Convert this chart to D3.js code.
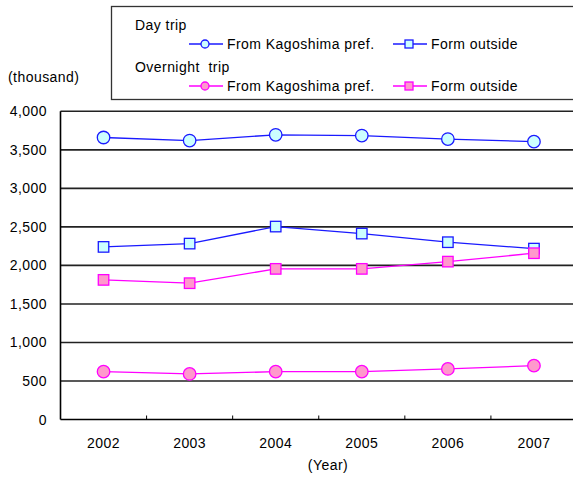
<!DOCTYPE html>
<html>
<head>
<meta charset="utf-8">
<script src="https://cdn.jsdelivr.net/npm/d3@7"></script>
<style>
  html, body { margin: 0; padding: 0; background: #fff; }
  svg { display: block; font-family: "Liberation Sans", Arial, sans-serif; }
  svg text { font-size: 14px; letter-spacing: 0.45px; fill: #000; }
</style>
</head>
<body>
<svg id="chart" width="573" height="477"></svg>
<script>
// Visitors (thousand) by year
const years = ["2002", "2003", "2004", "2005", "2006", "2007"];
const dayFromKagoshima = [3660, 3620, 3695, 3685, 3640, 3606];
const dayFromOutside = [2240, 2283, 2504, 2413, 2301, 2218];
const overnightFromKagoshima = [621, 591, 621, 621, 656, 699];
const overnightFromOutside = [1812, 1769, 1955, 1955, 2049, 2158];
const yTicks = [0, 500, 1000, 1500, 2000, 2500, 3000, 3500, 4000];

const series = [
  { name: "From Kagoshima pref.", group: "Day trip", values: dayFromKagoshima, shape: "circle", stroke: "#1a1aff", fill: "#ccffff" },
  { name: "Form outside", group: "Day trip", values: dayFromOutside, shape: "square", stroke: "#1a1aff", fill: "#ccffff" },
  { name: "From Kagoshima pref.", group: "Overnight  trip", values: overnightFromKagoshima, shape: "circle", stroke: "#ff00ff", fill: "#ff99cc" },
  { name: "Form outside", group: "Overnight  trip", values: overnightFromOutside, shape: "square", stroke: "#ff00ff", fill: "#ff99cc" }
];

const svg = d3.select("#chart");
const plotLeft = 60.5, plotRight = 577, plotTop = 111.3, plotBottom = 419.5;

const x = d3.scaleBand().domain(years).range([plotLeft, plotRight]);
const y = d3.scaleLinear().domain([0, 4000]).range([plotBottom, plotTop]);

// gridlines
svg.append("g").selectAll("line").data(yTicks.filter(t => t > 0)).join("line")
  .attr("x1", plotLeft).attr("x2", plotRight)
  .attr("y1", d => y(d)).attr("y2", d => y(d))
  .attr("stroke", "#222").attr("stroke-width", 1.6);

// y axis labels
svg.append("g").selectAll("text").data(yTicks).join("text")
  .attr("x", 47).attr("y", d => y(d) + 5)
  .attr("text-anchor", "end")
  .text(d => d3.format(",")(d));

// axes lines
svg.append("line").attr("x1", plotLeft).attr("x2", plotLeft).attr("y1", plotTop).attr("y2", plotBottom)
  .attr("stroke", "#000").attr("stroke-width", 1.6);
svg.append("line").attr("x1", plotLeft).attr("x2", plotRight).attr("y1", plotBottom).attr("y2", plotBottom)
  .attr("stroke", "#000").attr("stroke-width", 1.6);

// category boundary ticks
svg.append("g").selectAll("line").data(years.slice(1)).join("line")
  .attr("x1", d => x(d)).attr("x2", d => x(d))
  .attr("y1", plotBottom).attr("y2", plotBottom - 4)
  .attr("stroke", "#000").attr("stroke-width", 1);

// x labels
svg.append("g").selectAll("text").data(years).join("text")
  .attr("x", d => x(d) + x.bandwidth() / 2).attr("y", 448)
  .attr("text-anchor", "middle").text(d => d);

svg.append("text").attr("x", 328).attr("y", 470).attr("text-anchor", "middle").text("(Year)");
svg.append("text").attr("x", 8).attr("y", 82).text("(thousand)");

// series lines and markers
const cx = (d, i) => x(years[i]) + x.bandwidth() / 2;
const line = d3.line().x(cx).y(d => y(d));

function marker(g, shape, size) {
  if (shape === "circle") {
    g.append("circle").attr("r", size / 2);
  } else {
    g.append("rect").attr("x", -size / 2).attr("y", -size / 2).attr("width", size).attr("height", size);
  }
}

series.forEach(s => {
  svg.append("path").datum(s.values).attr("d", line)
    .attr("fill", "none").attr("stroke", s.stroke).attr("stroke-width", 1.3);
  s.values.forEach((v, i) => {
    const g = svg.append("g").attr("transform", `translate(${cx(v, i)},${y(v)})`)
      .attr("fill", s.fill).attr("stroke", s.stroke).attr("stroke-width", 1.3);
    marker(g, s.shape, s.shape === "circle" ? 12.5 : 10.5);
  });
});

// legend
const lg = svg.append("g");
lg.append("rect").attr("x", 111.5).attr("y", 6.5).attr("width", 480).attr("height", 93)
  .attr("fill", "#fff").attr("stroke", "#333").attr("stroke-width", 1.3);
const groups = ["Day trip", "Overnight  trip"];
groups.forEach((gname, gi) => {
  const gy = 30 + gi * 42;
  lg.append("text").attr("x", 135).attr("y", gy)
    .style("white-space", "pre").text(gname);
  series.filter(s => s.group === gname).forEach((s, k) => {
    const x0 = k === 0 ? 189 : 393;
    const ly = gy + 14;
    lg.append("line").attr("x1", x0).attr("x2", x0 + 34).attr("y1", ly).attr("y2", ly)
      .attr("stroke", s.stroke).attr("stroke-width", 1.3);
    const m = lg.append("g").attr("transform", `translate(${x0 + 16},${ly})`)
      .attr("fill", s.fill).attr("stroke", s.stroke).attr("stroke-width", 1.3);
    marker(m, s.shape, 8);
    lg.append("text").attr("x", x0 + 38).attr("y", ly + 5).text(s.name);
  });
});
</script>
</body>
</html>
